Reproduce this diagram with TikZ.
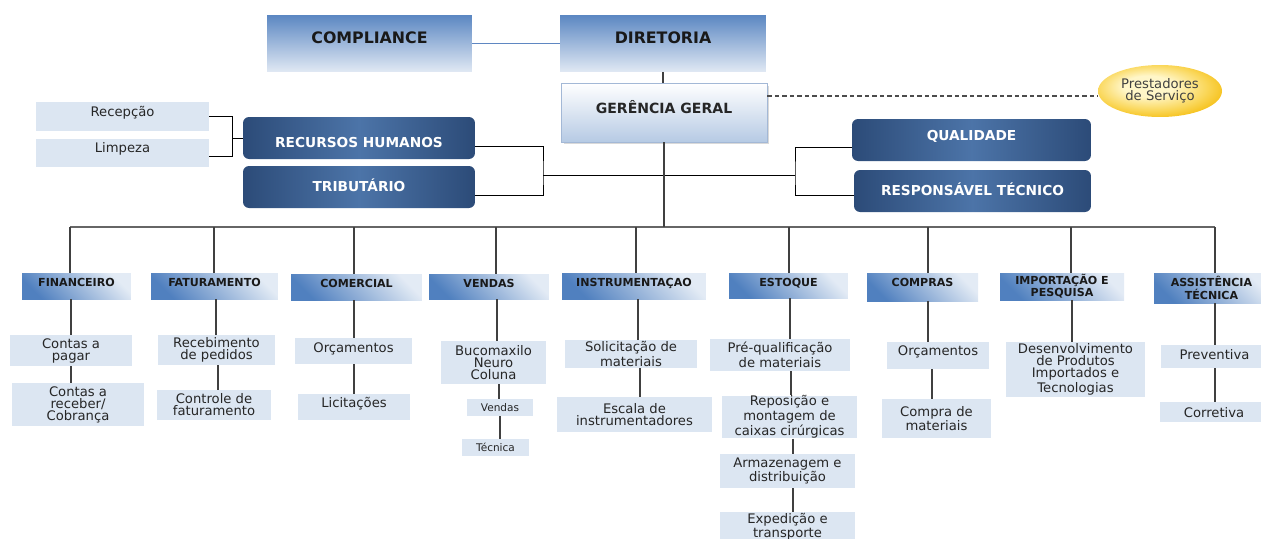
\documentclass[tikz,border=0pt]{standalone}
\usepackage{fontspec}
\setmainfont{DejaVu Sans}
\usetikzlibrary{shapes,shadows}
\definecolor{topdk}{HTML}{5B87C2}
\definecolor{toplt}{HTML}{E1E9F4}
\definecolor{gerlt}{HTML}{B6CAE4}
\definecolor{gerdraw}{HTML}{A3B8D6}
\definecolor{navydk}{HTML}{2C4B78}
\definecolor{navymd}{HTML}{4C74A8}
\definecolor{hdrdk}{HTML}{5080BF}
\definecolor{hdrlt}{HTML}{E3EBF5}
\definecolor{cellfill}{HTML}{DCE6F2}
\definecolor{gold}{HTML}{F4B800}
\definecolor{goldmd}{HTML}{FAD75A}
\definecolor{goldlt}{HTML}{FFF6C8}
\definecolor{linkblue}{HTML}{5F87C2}
\pgfdeclareradialshading{goldball}{\pgfpoint{-6bp}{6bp}}{color(0bp)=(goldlt);color(10bp)=(goldlt);color(22bp)=(goldmd);color(32bp)=(gold);color(50bp)=(gold)}
\tikzstyle{every picture}+=[remember picture]

\begin{document}
\begin{tikzpicture}[x=0.02cm,y=-0.02cm,
  tb/.style 2 args={text height=#1,text depth=#2},
  topbox/.style={top color=topdk,bottom color=toplt,inner sep=0pt,text=black!90,
    font=\fontsize{9}{10}\selectfont\bfseries},
  gerbox/.style={top color=white,bottom color=gerlt,draw=gerdraw,inner sep=0pt,text=black!85,
    drop shadow={shadow xshift=0.05cm,shadow yshift=-0.05cm,opacity=0.3},
    font=\fontsize{8}{9}\selectfont\bfseries},
  navybox/.style={left color=navydk,right color=navydk,middle color=navymd,rounded corners=0.12cm,
    inner sep=0pt,text=white,font=\fontsize{7.8}{9}\selectfont\bfseries},
  hdrbox/.style={top color=hdrlt,bottom color=hdrdk,shading angle=-45,inner sep=0pt,align=center,
    text=black!90,font=\fontsize{6.3}{5.8}\selectfont\bfseries},
  subbox/.style={fill=cellfill,inner sep=0pt,align=center,text=black!85,
    font=\fontsize{7.5}{6.8}\selectfont},
  smallbox/.style={subbox,font=\fontsize{6}{7}\selectfont},
  bus/.style={draw=black!60,line width=1.1pt},
  drop/.style={draw=black!75,line width=0.8pt},
  joint/.style={draw=black,line width=0.5pt}]
\useasboundingbox (0,0) rectangle (1261,538);

% top of the chart
\node[topbox,minimum width=4.1cm,tb={0.576cm}{0.564cm}] (comp) at (369.5,43.5) {COMPLIANCE};
\node[topbox,minimum width=4.12cm,tb={0.576cm}{0.564cm}] (dir) at (663,43.5) {DIRETORIA};
\node[gerbox,minimum width=4.12cm,tb={0.604cm}{0.576cm}] (ger) at (664,112.5) {GERÊNCIA GERAL};
\node[ellipse,shade,shading=goldball,inner sep=0pt,minimum width=2.48cm,minimum height=1.04cm,
  align=center,text=black!75,font=\fontsize{7.5}{7}\selectfont] (prest) at (1160,91) {Prestadores\\de Serviço};

\draw[draw=linkblue,line width=0.8pt] (comp.east) -- (dir.west);
\draw[drop] (dir.south) -- (dir.south |- ger.north);
\draw[draw=black!70,line width=0.6pt,dash pattern=on 0.09cm off 0.06cm]
  ([yshift=0.33cm]ger.east) -- ([yshift=0.33cm]ger.east -| prest.west);

% staff
\node[subbox,minimum width=3.46cm,tb={0.294cm}{0.286cm}] (rec) at (122.5,116.5) {Recepção};
\node[subbox,minimum width=3.46cm,tb={0.274cm}{0.286cm}] (limp) at (122.5,153) {Limpeza};
\node[navybox,minimum width=4.64cm,tb={0.6cm}{0.24cm}] (rh) at (359,138) {RECURSOS HUMANOS};
\node[navybox,minimum width=4.64cm,tb={0.5cm}{0.34cm}] (trib) at (359,187) {TRIBUTÁRIO};
\node[navybox,minimum width=4.78cm,tb={0.42cm}{0.42cm}] (qual) at (971.5,140) {QUALIDADE};
\node[navybox,minimum width=4.74cm,tb={0.5cm}{0.34cm}] (resp) at (972.5,191) {RESPONSÁVEL TÉCNICO};

\draw[joint] (rec.east) -- ++(23,0) |- ([yshift=-0.06cm]limp.east);
\draw[joint] (rh.west) -- ++(-11,0);
\coordinate (jl) at (543,175);
\coordinate (jr) at (795,175);
\draw[joint] ([yshift=-0.16cm]rh.east) -| (jl) |- ([yshift=-0.16cm]trib.east);
\draw[joint] ([yshift=-0.14cm]qual.west) -| (jr) |- ([yshift=-0.08cm]resp.west);
\draw[joint] (jl) -- (jr);

% departments
\node[hdrbox,minimum width=2.18cm,tb={0.26cm}{0.26cm}] (fin) at (76.5,286) {FINANCEIRO};
\node[hdrbox,minimum width=2.54cm,tb={0.26cm}{0.26cm}] (fat) at (214.5,286) {FATURAMENTO};
\node[hdrbox,minimum width=2.62cm,tb={0.26cm}{0.26cm}] (com) at (356.5,287) {COMERCIAL};
\node[hdrbox,minimum width=2.4cm,tb={0.26cm}{0.24cm}] (ven) at (489,286.5) {VENDAS};
\node[hdrbox,minimum width=2.88cm,tb={0.26cm}{0.26cm}] (ins) at (634,286) {INSTRUMENTAÇAO};
\node[hdrbox,minimum width=2.38cm,tb={0.26cm}{0.24cm}] (est) at (788.5,285.5) {ESTOQUE};
\node[hdrbox,minimum width=2.22cm,tb={0.27cm}{0.29cm}] (cpr) at (922.5,287) {COMPRAS};
\node[hdrbox,minimum width=2.48cm,minimum height=0.54cm] (imp) at (1062,286.5) {IMPORTAÇÃO E\\PESQUISA};
\node[hdrbox,minimum width=2.3cm,minimum height=0.6cm] (ast) at (1211.5,288) {ASSISTÊNCIA\\TÉCNICA};

\coordinate (busl) at (70,227);
\coordinate (busr) at (1215,227);
\draw[bus] (busl) -- (busr);
\draw[drop] (ger.south) -- (ger.south |- busl);
\foreach \x/\n in {70/fin,214/fat,354/com,496/ven,636/ins,789/est,928/cpr,1071/imp,1215/ast}
  {\coordinate (c) at (\x,227);
   \draw[drop] (c) -- (\n.north -| c);}

% sections
\node[subbox,minimum width=2.44cm,minimum height=0.62cm] (fin1) at (71,350.5) {Contas a\\pagar};
\node[subbox,minimum width=2.64cm,minimum height=0.86cm] (fin2) at (78,404.5) {Contas a\\receber/\\Cobrança};
\node[subbox,minimum width=2.34cm,minimum height=0.6cm] (fat1) at (216.5,350) {Recebimento\\de pedidos};
\node[subbox,minimum width=2.28cm,minimum height=0.6cm] (fat2) at (214,405) {Controle de\\faturamento};
\node[subbox,minimum width=2.34cm,tb={0.294cm}{0.226cm}] (com1) at (353.5,351) {Orçamentos};
\node[subbox,minimum width=2.24cm,tb={0.274cm}{0.246cm}] (com2) at (354,407) {Licitações};
\node[subbox,minimum width=2.1cm,minimum height=0.86cm] (ven1) at (493.5,362.5) {Bucomaxilo\\Neuro\\Coluna};
\node[smallbox,minimum width=1.32cm,tb={0.24cm}{0.1cm}] (ven2) at (500,407.5) {Vendas};
\node[smallbox,minimum width=1.34cm,tb={0.248cm}{0.092cm}] (ven3) at (495.5,447.5) {Técnica};
\node[subbox,minimum width=2.64cm,minimum height=0.56cm] (ins1) at (631,354) {Solicitação de\\materiais};
\node[subbox,minimum width=3.1cm,minimum height=0.7cm] (ins2) at (634.5,414.5) {Escala de\\instrumentadores};
\node[subbox,minimum width=2.8cm,minimum height=0.64cm] (est1) at (780,355) {Pré-qualificação\\de materiais};
\node[subbox,minimum width=2.7cm,minimum height=0.84cm] (est2) at (789.5,417) {Reposição e\\montagem de\\caixas cirúrgicas};
\node[subbox,minimum width=2.7cm,minimum height=0.68cm] (est3) at (787.5,471) {Armazenagem e\\distribuição};
\node[subbox,minimum width=2.7cm,minimum height=0.58cm] (est4) at (787.5,526.5) {Expedição e\\transporte};
\node[subbox,minimum width=2.04cm,tb={0.268cm}{0.272cm}] (cpr1) at (938,355.5) {Orçamentos};
\node[subbox,minimum width=2.18cm,minimum height=0.78cm] (cpr2) at (936.5,418.5) {Compra de\\materiais};
\node[subbox,minimum width=2.78cm,minimum height=1.1cm] (imp1) at (1075.5,369.5) {Desenvolvimento\\de Produtos\\Importados e\\Tecnologias};
\node[subbox,minimum width=2.14cm,tb={0.294cm}{0.166cm}] (ast1) at (1214.5,356.5) {Preventiva};
\node[subbox,minimum width=2.16cm,tb={0.3cm}{0.1cm}] (ast2) at (1214,412) {Corretiva};

\foreach \x/\a/\b in {71/fin/fin1,71/fin1/fin2,216/fat/fat1,218/fat1/fat2,354/com/com1,354/com1/com2,
  497/ven/ven1,499/ven1/ven2,500/ven2/ven3,638/ins/ins1,640/ins1/ins2,790/est/est1,791/est1/est2,
  793/est2/est3,793/est3/est4,928/cpr/cpr1,932/cpr1/cpr2,1072/imp/imp1,1215/ast/ast1,1215/ast1/ast2}
  {\coordinate (c) at (\x,0);
   \draw[drop] (\a.south -| c) -- (\b.north -| c);}
\end{tikzpicture}
\end{document}
